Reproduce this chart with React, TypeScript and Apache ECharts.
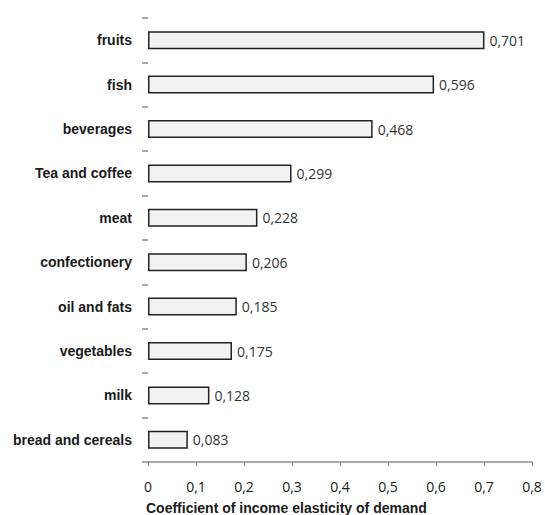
import React, { useEffect, useRef } from "react";
import * as echarts from "echarts";

const categories = [
  "bread and cereals",
  "milk",
  "vegetables",
  "oil and fats",
  "confectionery",
  "meat",
  "Tea and coffee",
  "beverages",
  "fish",
  "fruits",
];
const values = [0.083, 0.128, 0.175, 0.185, 0.206, 0.228, 0.299, 0.468, 0.596, 0.701];
const xTitle = "Coefficient of income elasticity of demand";

const fmt = (v: number) => String(v).replace(".", ",");

export default function App() {
  const ref = useRef<HTMLDivElement>(null);
  useEffect(() => {
    document.body.style.margin = "0";
    const chart = echarts.init(ref.current!, null, { renderer: "svg" });
    chart.setOption({
      animation: false,
      grid: { left: 148, right: 13, top: 18, bottom: 53 },
      xAxis: {
        type: "value",
        min: 0,
        max: 0.8,
        interval: 0.1,
        splitLine: { show: false },
        axisLine: { show: true, lineStyle: { color: "#8c8c8c", width: 1.5 } },
        axisTick: { show: true, length: 4, lineStyle: { color: "#8c8c8c" } },
        axisLabel: {
          formatter: (v: number) => fmt(Math.round(v * 10) / 10),
          color: "#1a1a1a",
          fontSize: 14,
          margin: 17,
          fontFamily: "Open Sans",
        },
      },
      yAxis: {
        type: "category",
        data: categories,
        axisLine: { show: false },
        axisTick: { show: true, length: 6, lineStyle: { color: "#8c8c8c", width: 1.5 } },
        axisLabel: {
          color: "#1a1a1a",
          fontWeight: "bold",
          fontSize: 14,
          margin: 16,
          fontFamily: "Liberation Sans",
        },
      },
      series: [
        {
          type: "bar",
          data: values,
          barWidth: 18,
          itemStyle: { color: "#f2f2f2", borderColor: "#222", borderWidth: 1.5 },
          label: {
            show: true,
            position: "right",
            distance: 5,
            formatter: (p: any) => fmt(p.value),
            color: "#333",
            fontSize: 14,
            fontFamily: "Open Sans",
          },
        },
      ],
      graphic: [
        {
          type: "text",
          left: 146,
          top: 501,
          style: {
            text: xTitle,
            fontWeight: "bold",
            fontSize: 14,
            fill: "#1a1a1a",
            fontFamily: "Liberation Sans",
          },
        },
      ],
    });
    return () => chart.dispose();
  }, []);
  return <div ref={ref} style={{ width: 545, height: 515 }} />;
}
